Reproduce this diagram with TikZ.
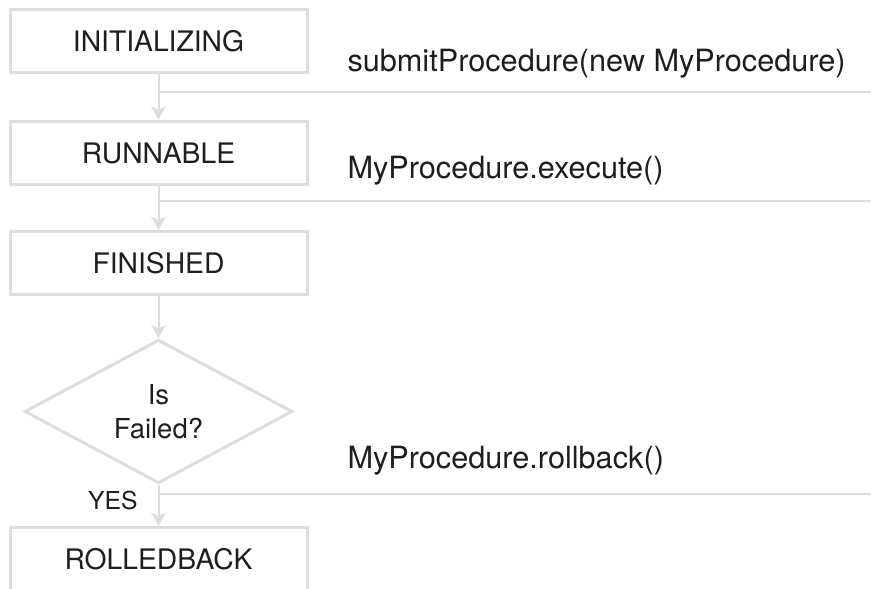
\documentclass[tikz,border=0pt]{standalone}
\usepackage{fontspec}
\setmainfont{TeX Gyre Heros}
\usetikzlibrary{arrows.meta,shapes.geometric}
\definecolor{lineGray}{RGB}{221,221,221}
\definecolor{textDark}{RGB}{30,30,30}
\tikzset{every picture/.style={line width=0.75pt}}

\begin{document}
\begin{tikzpicture}[x=0.75pt,y=0.75pt,yscale=-1,xscale=1,
  state/.style={draw=lineGray,line width=2.25pt,minimum width=222.75pt,minimum height=47.5pt,inner sep=0pt,text=textDark,font=\fontsize{21.2}{25}\selectfont},
  decision/.style={diamond,draw=lineGray,line width=2.25pt,minimum width=201pt,minimum height=105.75pt,inner sep=0pt,align=center,text=textDark,font=\fontsize{20.6}{25.5}\selectfont},
  call/.style={anchor=base west,inner sep=0pt,text=textDark,font=\fontsize{23}{27}\selectfont},
  flow/.style={draw=lineGray,line width=1.5pt,-{Stealth[length=10pt,width=11pt,inset=2.5pt]}},
  branch/.style={draw=lineGray,line width=1.5pt}]
\useasboundingbox (0,0) rectangle (873,588);

%States
\node[state] (init) at (158.5,41) {INITIALIZING};
\node[state] (run) at (158.5,153) {RUNNABLE};
\node[state] (fin) at (158.5,263) {FINISHED};
\node[decision] (fail) at (158.5,411.5) {Is\\Failed?};
\node[state] (back) at (158.5,559) {ROLLEDBACK};

%Flow
\draw[flow] (init) -- (run);
\draw[flow] (run) -- (fin);
\draw[flow] (fin) -- (fail);
\draw[flow] (fail) -- (back);

%Branches to the calls
\coordinate (e1) at (871,92);
\coordinate (e2) at (871,201);
\coordinate (e3) at (871,494);
\draw[branch] (init.south |- e1) -- (e1);
\draw[branch] (run.south |- e2) -- (e2);
\draw[branch] (fail.south |- e3) -- (e3);

%Calls
\node[call] (submit) at (347,72) {submitProcedure(new MyProcedure)};
\node[call] (exec) at (347,178) {MyProcedure.execute()};
\node[call] (rollback) at (347,468) {MyProcedure.rollback()};
\node[anchor=east,inner sep=0pt,text=textDark,font=\fontsize{18.5}{22}\selectfont] (yes) at (138,501) {YES};

\end{tikzpicture}
\end{document}
